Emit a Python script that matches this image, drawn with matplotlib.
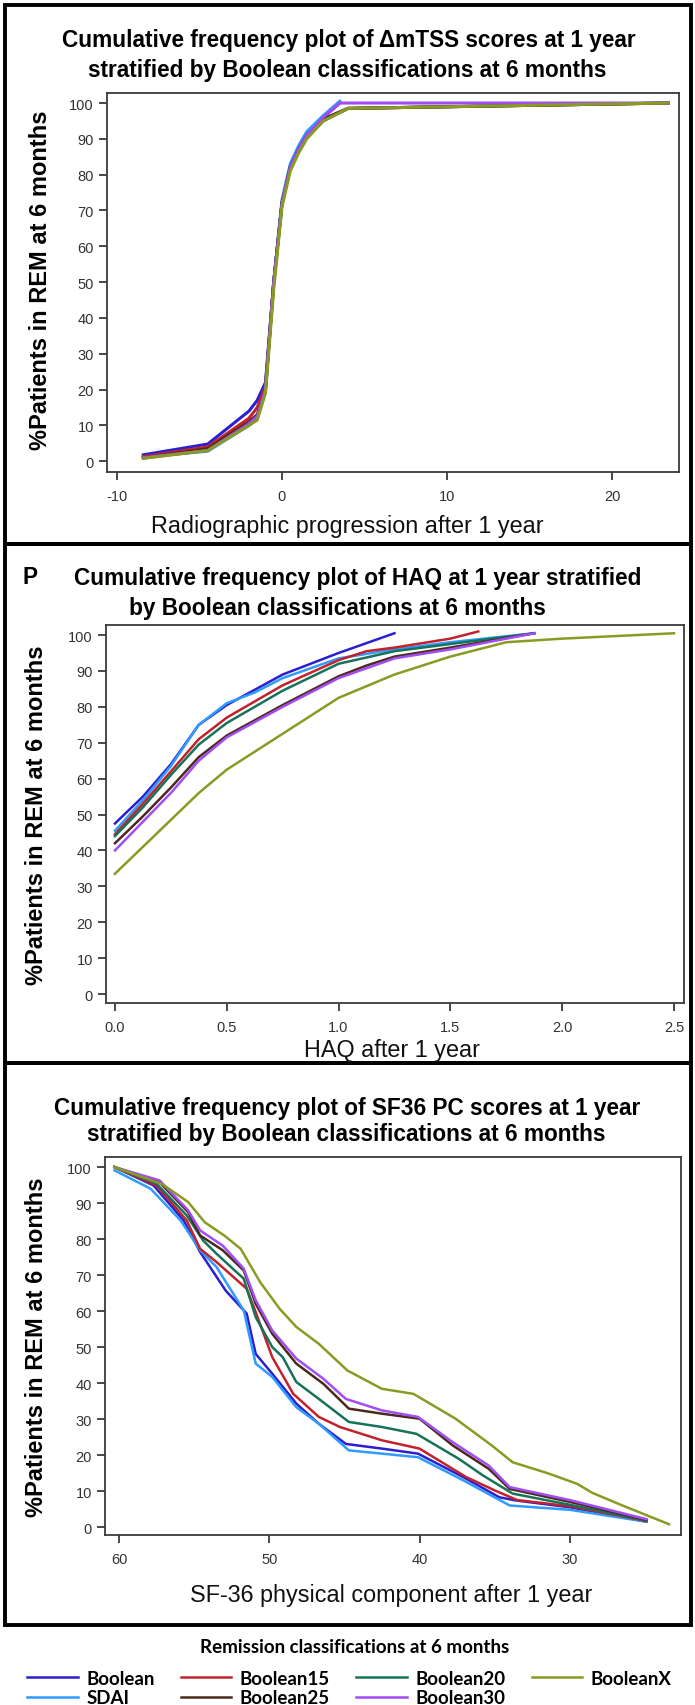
import matplotlib
matplotlib.use('Agg')
import matplotlib.pyplot as plt
from matplotlib.patches import Rectangle

plt.rcParams['font.family'] = ['Liberation Sans', 'DejaVu Sans']
plt.rcParams['axes.unicode_minus'] = False

W, H = 695, 1706

names = ['Boolean', 'SDAI', 'Boolean15', 'Boolean25', 'Boolean20', 'Boolean30', 'BooleanX']
colors = {'Boolean': '#2b1fd0', 'SDAI': '#2f9bff', 'Boolean15': '#c3222c',
          'Boolean25': '#4b2a1c', 'Boolean20': '#17725a', 'Boolean30': '#a24cf5',
          'BooleanX': '#8a9a22'}
draw_order = ['Boolean', 'SDAI', 'Boolean15', 'Boolean20', 'Boolean25', 'Boolean30', 'BooleanX']

# --- panel 1: delta mTSS at 1 year
tss_x = [-8.4, -4.5, -2.0, -1.5, -1.0, -0.5, 0.0, 0.5, 1.0, 1.5, 2.5, 3.5]
tss_x_long = tss_x[:-2] + [2.5, 4.0, 23.4]
tss = {
    'Boolean':   (tss_x, [1.8, 4.8, 14, 17, 22, 50, 72, 82, 87, 91, 96, 100]),
    'SDAI':      (tss_x, [1.2, 2.8, 10, 12, 20, 50, 73, 83, 88, 92, 96.5, 100.5]),
    'Boolean30': (tss_x + [23.4], [1.0, 3.0, 10.5, 12.5, 20, 50, 72, 82, 87, 91, 96, 100, 100]),
    'Boolean15': (tss_x_long, [1.3, 4.0, 12, 15, 21, 50, 72, 82, 87, 91, 95.5, 98.5, 100]),
    'Boolean25': (tss_x_long, [1.0, 3.5, 11, 13, 20, 50, 72, 82, 87, 91, 95.5, 98.5, 100]),
    'Boolean20': (tss_x_long, [0.9, 3.2, 10.5, 12, 20, 50, 72, 82, 86.5, 90.5, 95, 98.5, 100]),
    'BooleanX':  (tss_x_long, [0.8, 3.0, 10, 11.5, 19, 48, 71, 81, 86, 90, 95, 98.5, 100]),
}

# --- panel 2: HAQ at 1 year
haq = {
    'Boolean':   ([0, 0.125, 0.25, 0.375, 0.5, 0.75, 1.0, 1.25],
                  [47.5, 55, 64, 75, 80.5, 89, 95, 100.5]),
    'SDAI':      ([0, 0.125, 0.25, 0.375, 0.5, 0.625, 0.75, 1.0, 1.25, 1.5, 1.875],
                  [45.5, 54, 63.5, 75, 81, 84, 88, 93.5, 96, 98, 100.5]),
    'Boolean15': ([0, 0.125, 0.25, 0.375, 0.5, 0.75, 1.0, 1.125, 1.25, 1.5, 1.625],
                  [44.5, 53, 62, 71, 77, 86, 93, 95.5, 96.5, 99, 101]),
    'Boolean20': ([0, 0.125, 0.25, 0.375, 0.5, 0.75, 1.0, 1.25, 1.5, 1.875],
                  [44, 52, 61, 69.5, 75.5, 84.5, 92, 95.5, 97.5, 100.5]),
    'Boolean25': ([0, 0.125, 0.25, 0.375, 0.5, 0.75, 1.0, 1.125, 1.25, 1.5, 1.875],
                  [42, 49.5, 57.5, 66, 72, 80.5, 88.5, 91.5, 94, 96.5, 100.5]),
    'Boolean30': ([0, 0.125, 0.25, 0.375, 0.5, 0.75, 1.0, 1.25, 1.5, 1.875],
                  [40, 48, 56, 65, 71.5, 80, 88, 93.5, 96, 100.5]),
    'BooleanX':  ([0, 0.125, 0.25, 0.375, 0.5, 0.75, 1.0, 1.25, 1.5, 1.75, 2.0, 2.5],
                  [33.5, 41, 48.5, 56, 62.5, 72.5, 82.5, 89, 94, 98, 99, 100.5]),
}

# --- panel 3: SF-36 PC at 1 year (axis reversed)
sf36 = {
    'BooleanX':  ([60.3, 57.1, 55.4, 54.3, 53.0, 51.9, 50.6, 49.3, 48.2, 46.7, 44.8, 42.5, 40.4,
                   37.6, 35.2, 33.8, 31.5, 29.5, 28.5, 26.5, 23.4],
                  [100, 95.2, 90.3, 84.7, 81, 77.3, 68, 60.6, 55.6, 50.9, 43.5, 38.4, 37,
                   30.1, 22.7, 18, 15, 12, 9.5, 6, 0.8]),
    'Boolean30': ([60.3, 57.3, 55.4, 54.6, 53.1, 51.7, 50.9, 49.8, 48.2, 46.4, 44.9, 42.5, 40.1,
                   37.8, 35.4, 34.0, 30.0, 24.9],
                  [100, 96.3, 88, 82.4, 78.2, 71.8, 63, 54.6, 46.8, 41.2, 35.6, 32.4, 30.6,
                   23.6, 17.1, 11.1, 7.5, 2.2]),
    'Boolean25': ([60.3, 57.3, 55.4, 54.6, 53.1, 51.7, 50.9, 49.8, 48.2, 46.4, 44.7, 42.5, 40.0,
                   37.8, 35.4, 34.0, 30.0, 24.9],
                  [100, 95.8, 87.5, 81, 76.9, 71.3, 62, 53.7, 45.4, 39.8, 32.9, 31.5, 30.1,
                   22.7, 16.2, 10.6, 7, 2]),
    'Boolean20': ([60.3, 57.5, 55.5, 54.4, 53.5, 51.7, 50.9, 49.8, 49.1, 48.2, 46.7, 44.7, 42.5,
                   40.2, 37.4, 35.8, 33.8, 30.0, 24.9],
                  [100, 95.4, 86.6, 79.6, 75.9, 69, 58.3, 50, 47.2, 40.3, 35.6, 29.2, 27.8,
                   25.9, 19, 14.4, 9.3, 6.2, 1.8]),
    'Boolean15': ([60.3, 57.5, 55.5, 54.6, 53.5, 51.5, 50.9, 49.8, 48.4, 46.7, 45.3, 42.5, 40.0,
                   36.9, 35.0, 33.5, 30.0, 24.9],
                  [100, 94.9, 85.2, 77.3, 73.6, 66.2, 59.7, 47.2, 37, 30.6, 27.8, 24.1, 21.8,
                   13.9, 10.2, 7.5, 5.8, 1.7]),
    'Boolean':   ([60.3, 57.7, 55.7, 54.6, 52.9, 51.5, 50.9, 49.8, 48.2, 46.7, 44.9, 42.5, 40.1,
                   37.1, 34.7, 33.6, 30.0, 24.9],
                  [100, 94.9, 85.2, 76.4, 65.7, 59.3, 48.1, 42.6, 34.3, 28.7, 23.1, 21.8, 20.4,
                   13.9, 8.3, 7.4, 5.5, 1.5]),
    'SDAI':      ([60.3, 57.9, 55.9, 54.6, 53.5, 51.7, 50.9, 49.8, 48.2, 46.7, 44.7, 42.5, 40.1,
                   37.1, 34.0, 30.0, 24.9],
                  [99.1, 94, 85.2, 76.9, 72.2, 60.2, 45.4, 41.7, 33.3, 28.7, 21.3, 20.4, 19.4,
                   13, 6, 4.8, 1.5]),
}

fig = plt.figure(figsize=(W / 100, H / 100), dpi=100)


def rect(l, t, r, b):
    return [l / W, 1 - b / H, (r - l) / W, (b - t) / H]


def fx(x):
    return x / W


def fy(y):
    return 1 - y / H


def style(ax):
    for s in ['left', 'bottom', 'right', 'top']:
        ax.spines[s].set_color('#3a3a3a')
        ax.spines[s].set_linewidth(1.3)
    ax.tick_params(direction='out', length=5.5, width=1.3, color='#3a3a3a',
                   labelcolor='#333333', labelsize=10.5)
    ax.tick_params(axis='x', pad=7)
    ax.tick_params(axis='y', pad=4)
    ax.set_yticks(range(0, 101, 10))


title_kw = dict(ha='center', va='center', fontsize=16.3, fontweight='bold', color='black')
ylab_kw = dict(ha='center', va='center', rotation=90, fontsize=17, fontweight='bold')
xlab_kw = dict(ha='center', va='center', fontsize=16.8, color='#111111')

# panel 1
ax1 = fig.add_axes(rect(107, 94, 679, 473))
for n in draw_order:
    x, y = tss[n]
    ax1.plot(x, y, color=colors[n], lw=2.2)
ax1.set_xlim(-10.6, 24.05)
ax1.set_ylim(-3.0, 102.8)
ax1.set_xticks([-10, 0, 10, 20])
style(ax1)
fig.text(fx(349), fy(41), 'Cumulative frequency plot of ΔmTSS scores at 1 year', **title_kw)
fig.text(fx(347), fy(70), 'stratified by Boolean classifications at 6 months', **title_kw)
fig.text(fx(41), fy(280), '%Patients in REM at 6 months', **ylab_kw)
fig.text(fx(347), fy(527), 'Radiographic progression after 1 year', **xlab_kw)

# panel 2
ax2 = fig.add_axes(rect(106, 626, 684, 1004))
for n in draw_order:
    x, y = haq[n]
    ax2.plot(x, y, color=colors[n], lw=1.8)
ax2.set_xlim(-0.04, 2.545)
ax2.set_ylim(-2.5, 102.8)
ax2.set_xticks([0, 0.5, 1.0, 1.5, 2.0, 2.5])
ax2.set_xticklabels(['0.0', '0.5', '1.0', '1.5', '2.0', '2.5'])
style(ax2)
fig.text(fx(30), fy(578), 'P', **title_kw)
fig.text(fx(358), fy(578), 'Cumulative frequency plot of HAQ at 1 year stratified', **title_kw)
fig.text(fx(337), fy(609), 'by Boolean classifications at 6 months', **title_kw)
fig.text(fx(37), fy(815), '%Patients in REM at 6 months', **ylab_kw)
fig.text(fx(392), fy(1050), 'HAQ after 1 year', **xlab_kw)

# panel 3
ax3 = fig.add_axes(rect(105, 1158, 681, 1536))
for n in draw_order:
    x, y = sf36[n]
    ax3.plot(x, y, color=colors[n], lw=1.8)
ax3.set_xlim(60.93, 22.6)
ax3.set_ylim(-2.2, 102.8)
ax3.set_xticks([60, 50, 40, 30])
style(ax3)
fig.text(fx(347), fy(1109), 'Cumulative frequency plot of SF36 PC scores at 1 year', **title_kw)
fig.text(fx(346), fy(1135), 'stratified by Boolean classifications at 6 months', **title_kw)
fig.text(fx(37), fy(1347), '%Patients in REM at 6 months', **ylab_kw)
fig.text(fx(391), fy(1596), 'SF-36 physical component after 1 year', **xlab_kw)

# panel frames
for top, bot in [(6, 545), (545, 1064), (1064, 1626)]:
    fig.add_artist(Rectangle((fx(5), fy(bot)), fx(686), (bot - top) / H,
                             transform=fig.transFigure, fill=False,
                             edgecolor='black', lw=2.8))

# legend
leg_font = {'family': 'Lato', 'weight': 'bold', 'size': 13.5}
fig.text(fx(355), fy(1648), 'Remission classifications at 6 months', ha='center', va='center',
         fontfamily='Lato', fontweight='bold', fontsize=13.5)
handles = [ax3.get_lines()[draw_order.index(n)] for n in names]
leg = fig.legend(handles, names, loc='center left', bbox_to_anchor=(fx(27), fy(1689)),
                 ncol=4, frameon=False, handlelength=2.7, handletextpad=0.45,
                 columnspacing=1.4, labelspacing=0.12, borderpad=0, borderaxespad=0,
                 prop=leg_font)

fig.savefig('out.png', dpi=100)
